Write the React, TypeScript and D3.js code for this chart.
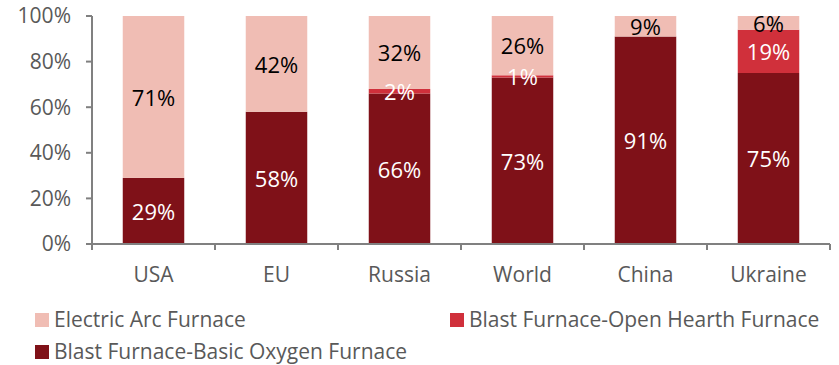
import React from "react";
import * as d3 from "d3";

const categories = ["USA", "EU", "Russia", "World", "China", "Ukraine"];
const bofValues = [29, 58, 66, 73, 91, 75];
const ohfValues = [0, 0, 2, 1, 0, 19];
const eafValues = [71, 42, 32, 26, 9, 6];
const yTicks = [0, 20, 40, 60, 80, 100];

const seriesNames = [
  "Blast Furnace-Basic Oxygen Furnace",
  "Blast Furnace-Open Hearth Furnace",
  "Electric Arc Furnace",
];
const seriesColors = ["#7f1118", "#d0303b", "#f0bdb4"];
const labelColors = ["#ffffff", "#ffffff", "#000000"];

const W = 839;
const H = 365;
const left = 92;
const right = 830;
const top = 16;
const bottom = 244;
const FONT = "'Open Sans', sans-serif";

export default function App() {
  const x = d3
    .scaleBand<string>()
    .domain(categories)
    .range([left, right])
    .paddingInner(0.5)
    .paddingOuter(0.25);
  const y = d3.scaleLinear().domain([0, 100]).range([bottom, top]);

  const rows = categories.map((c, i) => ({
    cat: c,
    s0: bofValues[i],
    s1: ohfValues[i],
    s2: eafValues[i],
  }));
  const stack = d3.stack<any>().keys(["s0", "s1", "s2"]);
  const layers = stack(rows);
  const step = x.step();

  return (
    <svg width={W} height={H} style={{ display: "block", position: "absolute", left: 0, top: 0 }}>
      <rect width={W} height={H} fill="#fff" />
      {layers.map((layer, li) =>
        layer.map((d, i) => {
          const v = d[1] - d[0];
          if (v <= 0) return null;
          return (
            <rect
              key={`${li}-${i}`}
              x={x(categories[i])}
              y={y(d[1])}
              width={x.bandwidth()}
              height={y(d[0]) - y(d[1])}
              fill={seriesColors[li]}
            />
          );
        })
      )}
      {layers.map((layer, li) =>
        layer.map((d, i) => {
          const v = d[1] - d[0];
          if (v <= 0) return null;
          const cx = (x(categories[i]) as number) + x.bandwidth() / 2;
          const cy = (y(d[0]) + y(d[1])) / 2;
          return (
            <text
              key={`l${li}-${i}`}
              x={cx}
              y={cy}
              dy="0.4em"
              textAnchor="middle"
              fontFamily={FONT}
              fontSize={22}
              fill={labelColors[li]}
            >
              {`${v}%`}
            </text>
          );
        })
      )}
      {/* value axis */}
      <line x1={left} x2={left} y1={top} y2={bottom} stroke="#808080" strokeWidth={2} />
      {yTicks.map((t) => (
        <g key={t}>
          <line x1={left - 6} x2={left} y1={y(t)} y2={y(t)} stroke="#808080" strokeWidth={2} />
          <text
            x={left - 21}
            y={y(t)}
            dy="0.35em"
            textAnchor="end"
            fontFamily={FONT}
            fontSize={21}
            fill="#595959"
          >
            {`${t}%`}
          </text>
        </g>
      ))}
      {/* category axis */}
      <line x1={left} x2={right} y1={bottom} y2={bottom} stroke="#808080" strokeWidth={2} />
      {d3.range(categories.length + 1).map((i) => {
        const tx = left + i * step;
        return <line key={i} x1={tx} x2={tx} y1={bottom} y2={bottom + 6} stroke="#808080" strokeWidth={2} />;
      })}
      {categories.map((c) => (
        <text
          key={c}
          x={(x(c) as number) + x.bandwidth() / 2}
          y={282}
          textAnchor="middle"
          fontFamily={FONT}
          fontSize={21}
          fill="#595959"
        >
          {c}
        </text>
      ))}
      {/* legend */}
      {[
        { idx: 2, lx: 35, ly: 320 },
        { idx: 1, lx: 450, ly: 320 },
        { idx: 0, lx: 35, ly: 352 },
      ].map(({ idx, lx, ly }) => (
        <g key={idx}>
          <rect x={lx} y={ly - 7} width={14} height={14} fill={seriesColors[idx]} />
          <text x={lx + 19} y={ly} dy="0.35em" fontFamily={FONT} fontSize={21} fill="#595959">
            {seriesNames[idx]}
          </text>
        </g>
      ))}
    </svg>
  );
}
